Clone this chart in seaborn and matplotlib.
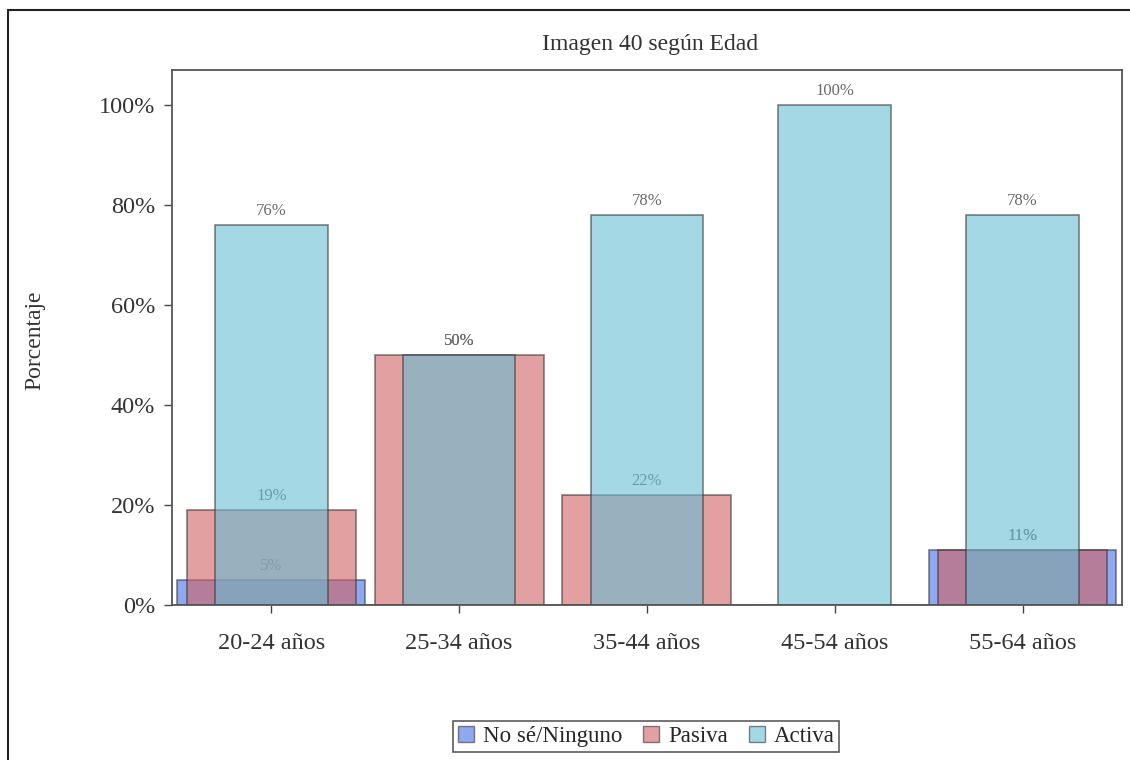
import numpy as np
import pandas as pd
import matplotlib
matplotlib.use("Agg")
import matplotlib.pyplot as plt
import seaborn as sns
from matplotlib.patches import Patch, Rectangle

# data
edades = ["20-24 años", "25-34 años", "35-44 años", "45-54 años", "55-64 años"]
no_se = [5, 0, 0, 0, 11]
pasiva = [19, 50, 22, 0, 11]
activa = [76, 50, 78, 100, 78]

sns.set_theme(style="white")
plt.rcParams['font.family'] = ['Liberation Serif', 'DejaVu Serif']

fig = plt.figure(figsize=(11.3, 7.6), dpi=100)
ax = fig.add_axes([0.152, 0.204, 0.841, 0.704])

# one layer per response, widest at the back
series = [
    ("No sé/Ninguno", no_se, "#446ee6", 1.0, 2),
    ("Pasiva", pasiva, "#d06161", 0.9, 3),
    ("Activa", activa, "#69bed4", 0.6, 4),
]

for name, vals, col, w, z in series:
    df = pd.DataFrame({"edad": edades, "valor": vals})
    sns.barplot(data=df, x="edad", y="valor", order=edades, color=col,
                width=w, alpha=0.6, edgecolor="#333333", linewidth=1.2,
                zorder=z, ax=ax, saturation=1, errorbar=None)
    labels = [f"{v}%" if v > 0 else "" for v in vals]
    ax.bar_label(ax.containers[-1], labels=labels, padding=4, fontsize=12,
                 color="#6a6a6a", zorder=z + 0.5)

ax.set_xlim(-0.53, 4.53)
ax.set_ylim(0, 107)
ax.set_yticks([0, 20, 40, 60, 80, 100])
ax.set_yticklabels([f"{t}%" for t in [0, 20, 40, 60, 80, 100]])
ax.tick_params(axis="both", which="both", length=6, width=1, direction="out",
               color="#444444", labelsize=17.5, labelcolor="#333333", pad=6)
ax.tick_params(axis="x", pad=14)
ax.xaxis.set_ticks_position("bottom")
ax.yaxis.set_ticks_position("left")
for s in ax.spines.values():
    s.set_color("#555555")
    s.set_linewidth(1.3)
    s.set_zorder(6)

ax.set_xlabel("")
ax.set_ylabel("Porcentaje", fontsize=17, color="#333333")
ax.yaxis.set_label_coords(-0.133, 0.495)

fig.text(0.575, 0.941, "Imagen 40 según Edad", ha="center", va="center",
         fontsize=17, color="#333333")

handles = [Patch(facecolor=c, alpha=0.6, edgecolor="#333333", label=n)
           for n, _, c, _, _ in series]
leg = fig.legend(handles=handles, loc="center", bbox_to_anchor=(0.572, 0.031),
                 ncol=3, frameon=True, fancybox=False, fontsize=16.5,
                 handlelength=0.7, handleheight=0.7, handletextpad=0.4,
                 columnspacing=0.9, borderpad=0.2, edgecolor="#333333")
leg.get_frame().set_linewidth(1.2)

# outer frame of the original image
fig.patches.append(Rectangle((0.007, -0.1), 1.2, 1.1 - 0.013,
                             transform=fig.transFigure, fill=False,
                             edgecolor="#222222", linewidth=1.5))

fig.savefig("out.png", dpi=100)
